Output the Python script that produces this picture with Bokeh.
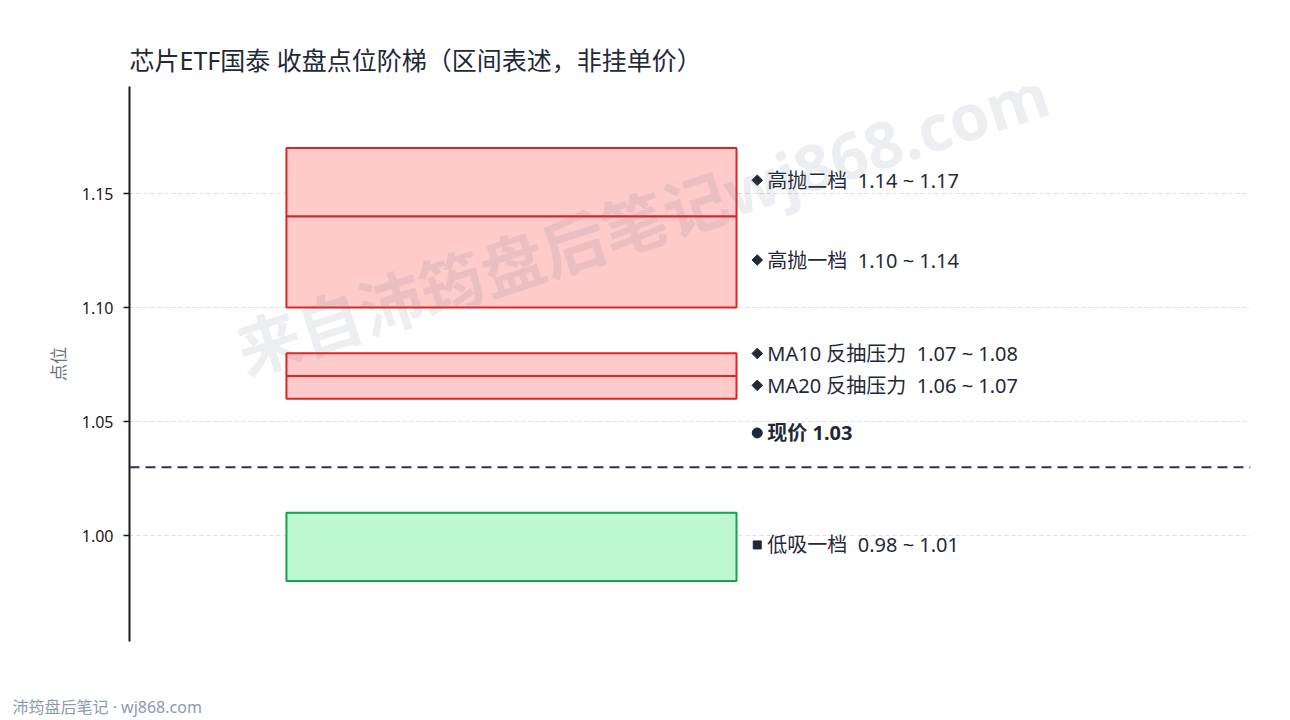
from bokeh.plotting import figure
from bokeh.models import ColumnDataSource, Range1d, FixedTicker, Span, Label, Title, NumeralTickFormatter
from bokeh.core.properties import value
from bokeh.embed import file_html
from bokeh.resources import INLINE

# ---- data ----
band_names = ["高抛二档", "高抛一档", "MA10 反抽压力", "MA20 反抽压力", "低吸一档"]
band_low = [1.14, 1.10, 1.07, 1.06, 0.98]
band_high = [1.17, 1.14, 1.08, 1.07, 1.01]
band_kind = ["sell", "sell", "resist", "resist", "buy"]
current_price = 1.03
y_ticks = [1.00, 1.05, 1.10, 1.15]

FONT = "'Noto Sans', 'Noto Sans CJK SC', sans-serif"
TXT = "#1f2937"
NB = "\u00a0"

fill_map = {"sell": "#fecaca", "resist": "#fecaca", "buy": "#bbf7d0"}
line_map = {"sell": "#dc2626", "resist": "#dc2626", "buy": "#16a34a"}
angle_map = {"sell": 45, "resist": 45, "buy": 0}
size_map = {"sell": 7.5, "resist": 7.5, "buy": 8}

Y0, Y1 = 0.9535, 1.197
p = figure(width=1282, height=720, output_backend="svg", toolbar_location=None,
           x_axis_location=None, x_range=Range1d(0, 1), y_range=Range1d(Y0, Y1),
           min_border_left=129, min_border_right=32, min_border_top=86, min_border_bottom=79)
p.outline_line_color = None
p.background_fill_color = "white"
p.border_fill_color = "white"

# title
p.title.text = "芯片ETF国泰 收盘点位阶梯（区间表述，非挂单价）"
p.title.text_font = FONT
p.title.text_font_size = "25px"
p.title.text_font_style = "normal"
p.title.text_color = TXT
p.title.align = "left"
p.title.standoff = 20

# axis
ax = p.yaxis[0]
ax.ticker = FixedTicker(ticks=y_ticks)
ax.formatter = NumeralTickFormatter(format="0.00")
ax.axis_line_color = "#1a1a1a"
ax.axis_line_width = 2
ax.major_tick_line_color = "#1a1a1a"
ax.major_tick_line_width = 1.5
ax.major_tick_out = 6
ax.major_tick_in = 0
ax.major_label_standoff = 10
ax.minor_tick_line_color = None
ax.major_label_text_font = FONT
ax.major_label_text_font_size = "16px"
ax.major_label_text_color = "#1a1a1a"
ax.axis_label = "点位"
ax.axis_label_text_font = FONT
ax.axis_label_text_font_size = "17px"
ax.axis_label_text_font_style = "normal"
ax.axis_label_text_color = "#6b7280"
ax.axis_label_standoff = 9

p.xgrid.grid_line_color = None
p.ygrid.grid_line_color = "#dddddd"
p.ygrid.grid_line_dash = "4 3"
p.ygrid.grid_line_width = 1

# bands
src = ColumnDataSource(dict(
    left=[0.14] * len(band_names), right=[0.5415] * len(band_names),
    bottom=band_low, top=band_high,
    fill=[fill_map[k] for k in band_kind], line=[line_map[k] for k in band_kind],
))
p.quad(left="left", right="right", bottom="bottom", top="top", source=src,
       fill_color="fill", line_color="line", line_width=2)

# current price line
p.add_layout(Span(location=current_price, dimension="width", line_color="#2d3340",
                  line_dash="10 6", line_width=2))

# band labels with simple collision avoidance
mids = [(lo + hi) / 2 for lo, hi in zip(band_low, band_high)]
order = sorted(range(len(mids)), key=lambda i: mids[i])
ly = list(mids)
min_gap = 0.014
for a, b in zip(order[:-1], order[1:]):
    if ly[b] - ly[a] < min_gap:
        ly[b] = ly[a] + min_gap
nudge = 2 * (Y1 - Y0) / 555  # lift labels ~2px so glyphs sit centred
ly = [v + nudge for v in ly]
texts = [f"{n}{NB}{NB}{lo:.2f} ~ {hi:.2f}" for n, lo, hi in zip(band_names, band_low, band_high)]
lsrc = ColumnDataSource(dict(
    mx=[0.560] * len(texts), x=[0.569] * len(texts), y=ly, t=texts,
    a=[angle_map[k] for k in band_kind], s=[size_map[k] for k in band_kind],
))
p.scatter(x="mx", y="y", marker="square", size="s", angle="a", angle_units="deg",
          source=lsrc, color=TXT)
p.text(x="x", y="y", text="t", source=lsrc, text_font=value(FONT), text_font_size="20px",
       text_color=TXT, text_baseline="middle", text_align="left")

# current price label
psrc = ColumnDataSource(dict(mx=[0.560], x=[0.569], y=[current_price + 0.015],
                             t=[f"现价 {current_price:.2f}"]))
p.scatter(x="mx", y="y", marker="circle", size=10, source=psrc, color=TXT)
p.text(x="x", y="y", text="t", source=psrc, text_font=value(FONT), text_font_size="20px",
       text_font_style="bold", text_color=TXT, text_baseline="middle", text_align="left")

# watermark
p.add_layout(Label(x=0.4575, y=1.1377, text="来自沛筠盘后笔记wj868.com", angle=18, angle_units="deg",
                   text_font=FONT, text_font_size="64px", text_font_style="bold",
                   text_color="#64748b", text_alpha=0.12, text_align="center",
                   text_baseline="middle", level="overlay"))

# footer: a blank spacer title then the footer line, both below the frame
p.add_layout(Title(text=NB, text_font=FONT, text_font_size="16px", standoff=28), "below")
p.add_layout(Title(text="沛筠盘后笔记 · wj868.com", align="left", offset=-117,
                   text_font=FONT, text_font_size="16px", text_font_style="normal",
                   text_color="#8a9ab5", standoff=0), "below")

open("out.html", "w").write(file_html(p, INLINE))
